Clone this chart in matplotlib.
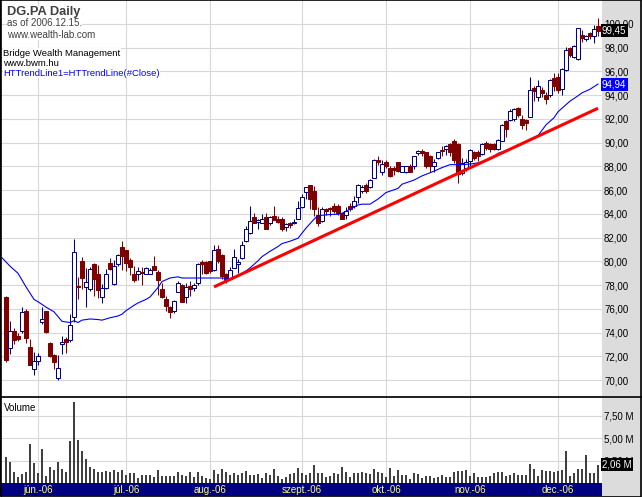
import numpy as np
import matplotlib
matplotlib.use("Agg")
import matplotlib.pyplot as plt
from matplotlib.patches import Rectangle
from matplotlib.lines import Line2D
from matplotlib.ticker import FuncFormatter

# === Data (DG.PA daily, 2006-05-22 .. 2006-12-15) ===
opens = [77.0, 72.7, 74.1, 73.7, 74.1, 75.8, 72.75, 70.95, 71.6, 74.9,
         75.8, 73.1, 72.1, 70.15, 73.0, 73.5, 73.35, 75.35, 77.95, 80.0,
         77.85, 77.65, 79.8, 78.9, 77.0, 77.75, 79.85, 78.1, 79.8, 81.25,
         80.95, 80.1, 78.95, 78.9, 79.1, 78.95, 78.95, 79.65, 79.1, 77.65,
         76.85, 76.15, 75.8, 77.45, 78.05, 77.0, 77.9, 77.75, 78.15, 79.95,
         79.95, 80.0, 79.25, 81.05, 80.5, 78.95, 78.55, 79.45, 79.75, 80.3,
         81.7, 82.35, 83.75, 83.3, 83.25, 83.75, 83.2, 83.85, 83.6, 83.6,
         82.9, 83.2, 83.25, 83.6, 84.6, 85.85, 86.4, 85.95, 83.9, 83.4,
         84.4, 84.5, 84.7, 84.7, 84.05, 83.9, 84.7, 84.7, 85.4, 85.95,
         86.4, 86.3, 87.05, 88.5, 87.55, 88.4, 87.9, 87.9, 88.35, 87.55,
         87.5, 88.05, 88.0, 89.15, 89.3, 89.2, 88.9, 88.0, 88.7, 89.4,
         89.5, 89.9, 90.1, 89.9, 87.45, 87.9, 88.45, 89.2, 89.2, 89.05,
         89.95, 89.85, 89.85, 89.45, 90.15, 91.85, 91.95, 92.0, 92.9, 92.0,
         91.9, 92.2, 94.6, 93.85, 94.4, 94.05, 94.05, 95.45, 95.55, 94.5,
         96.1, 97.95, 97.2, 97.05, 99.05, 98.7, 99.2, 99.0, 99.8]
highs = [77.1, 74.95, 74.35, 74.0, 76.15, 76.0, 73.5, 72.35, 72.3, 76.15,
         75.8, 73.25, 72.2, 72.1, 73.7, 73.6, 75.6, 81.85, 78.7, 80.35,
         79.45, 79.55, 79.9, 79.7, 78.1, 79.4, 80.25, 80.1, 80.65, 81.7,
         80.95, 80.25, 79.65, 79.55, 79.55, 79.55, 79.45, 80.45, 79.3, 78.2,
         77.1, 76.2, 76.75, 78.35, 78.1, 78.2, 78.35, 78.2, 79.9, 80.1,
         80.0, 80.0, 81.4, 81.4, 80.6, 79.0, 79.55, 81.05, 80.2, 81.75,
         82.95, 84.65, 84.05, 83.55, 84.0, 84.05, 83.8, 84.7, 83.8, 83.7,
         83.25, 83.3, 83.55, 85.05, 85.7, 86.3, 86.4, 86.35, 84.55, 84.6,
         84.5, 84.6, 84.95, 84.8, 84.1, 84.6, 84.95, 85.5, 86.5, 86.4,
         86.6, 86.95, 88.6, 88.9, 88.5, 88.5, 88.0, 88.0, 88.4, 88.05,
         88.05, 88.2, 88.9, 89.4, 89.5, 89.2, 89.0, 88.6, 89.25, 89.75,
         89.8, 90.0, 90.3, 90.0, 88.7, 88.6, 89.45, 89.3, 89.35, 89.95,
         90.1, 90.0, 89.95, 90.3, 91.6, 91.9, 92.85, 92.9, 93.0, 92.35,
         92.0, 95.55, 94.8, 95.25, 94.7, 94.3, 95.35, 95.9, 95.9, 96.3,
         98.1, 98.1, 98.2, 99.7, 99.5, 99.1, 99.35, 99.9, 100.5]
lows = [71.5, 72.2, 73.0, 73.3, 74.0, 73.15, 71.25, 70.45, 71.3, 74.75,
        73.95, 71.95, 70.9, 70.0, 72.2, 72.3, 73.25, 74.9, 76.85, 77.7,
        76.15, 77.5, 77.1, 76.9, 76.5, 77.7, 79.25, 78.05, 79.65, 79.25,
        79.15, 78.85, 78.3, 78.4, 78.05, 78.9, 78.9, 79.25, 77.2, 76.9,
        75.8, 75.25, 75.65, 77.4, 76.55, 76.5, 77.05, 77.5, 78.05, 78.95,
        78.9, 79.0, 79.15, 79.9, 78.5, 78.2, 78.5, 79.45, 79.05, 80.2,
        81.6, 82.3, 83.2, 82.75, 83.2, 82.7, 83.1, 83.45, 83.25, 82.55,
        82.6, 82.85, 83.15, 83.55, 84.5, 85.25, 84.4, 83.85, 82.95, 83.3,
        83.9, 83.85, 84.1, 83.9, 83.55, 83.55, 84.25, 84.5, 84.95, 85.8,
        85.8, 86.2, 87.0, 88.1, 87.3, 87.9, 87.15, 87.3, 87.5, 87.5,
        87.45, 87.5, 87.75, 89.0, 88.9, 87.85, 87.5, 87.5, 88.6, 88.9,
        89.0, 88.9, 88.3, 86.6, 87.3, 87.6, 88.0, 88.55, 88.45, 88.95,
        89.4, 89.25, 89.35, 89.4, 90.1, 90.5, 91.85, 91.8, 92.2, 91.15,
        91.05, 92.15, 93.5, 93.5, 93.85, 93.3, 93.85, 94.35, 94.2, 94.0,
        96.0, 97.25, 97.1, 97.0, 98.5, 98.55, 98.7, 98.4, 98.95]
closes = [71.7, 74.1, 73.35, 73.5, 75.75, 73.55, 71.3, 71.65, 72.05, 75.15,
          74.05, 72.0, 71.5, 71.05, 73.25, 73.2, 74.6, 80.75, 77.85, 78.6,
          78.25, 79.4, 78.55, 77.55, 77.8, 78.95, 79.4, 79.65, 80.55, 80.45,
          79.9, 79.55, 78.4, 79.15, 79.05, 79.45, 79.3, 79.3, 78.4, 77.0,
          76.2, 75.7, 76.65, 78.15, 76.6, 77.85, 77.65, 78.0, 79.8, 79.75,
          79.0, 79.15, 81.0, 80.0, 78.75, 78.4, 79.3, 80.4, 79.95, 81.35,
          82.75, 83.4, 83.25, 83.45, 83.6, 82.75, 83.7, 83.45, 83.3, 82.75,
          83.15, 83.1, 83.3, 84.5, 85.45, 86.25, 85.25, 84.4, 83.2, 84.4,
          84.25, 84.4, 84.25, 84.05, 83.6, 84.25, 84.4, 85.1, 86.4, 86.25,
          85.95, 86.85, 88.5, 88.35, 88.2, 88.05, 87.2, 87.7, 87.65, 88.0,
          88.0, 87.55, 88.9, 89.3, 89.15, 88.0, 88.05, 88.4, 89.2, 89.3,
          89.75, 89.2, 88.5, 87.4, 88.25, 88.4, 89.35, 88.7, 88.85, 89.85,
          89.55, 89.45, 89.45, 90.2, 91.5, 91.15, 92.7, 92.8, 92.35, 91.5,
          91.7, 94.4, 94.35, 94.8, 94.2, 93.7, 95.3, 94.8, 94.45, 96.2,
          97.8, 97.4, 98.15, 99.65, 98.8, 99.0, 98.95, 99.55, 99.45]
volumes = [2.93, 2.37, 1.26, 0.63, 1.0, 1.26, 4.33, 2.26, 1.15, 3.78,
           0.81, 1.78, 1.48, 2.37, 1.56, 1.22, 4.7, 9.1, 4.78, 3.56,
           2.67, 1.81, 1.52, 1.26, 1.26, 1.37, 1.26, 1.48, 1.19, 1.44,
           0.89, 1.15, 1.15, 0.59, 0.89, 0.85, 0.89, 0.63, 1.44, 0.78,
           0.78, 0.78, 0.78, 1.26, 0.89, 0.78, 1.26, 0.63, 1.26, 0.78,
           0.52, 0.44, 1.44, 1.0, 1.52, 1.22, 0.89, 1.15, 0.89, 1.15,
           1.33, 0.89, 0.89, 1.0, 0.56, 1.07, 0.89, 1.56, 0.78, 0.44,
           0.63, 0.96, 1.15, 1.63, 1.15, 0.89, 1.15, 2.0, 1.15, 1.15,
           0.63, 0.78, 1.07, 1.0, 1.78, 1.19, 0.63, 1.07, 1.15, 1.26,
           1.07, 1.0, 1.59, 1.26, 1.07, 0.63, 1.67, 0.78, 1.44, 0.89,
           0.89, 0.41, 1.11, 0.96, 0.52, 0.78, 0.78, 0.52, 0.7, 0.89,
           0.7, 0.7, 1.26, 1.37, 1.37, 1.44, 0.78, 1.07, 0.7, 0.7,
           0.7, 0.78, 1.15, 1.26, 1.26, 0.78, 0.89, 1.15, 0.89, 0.89,
           0.89, 2.11, 1.56, 0.78, 1.44, 1.37, 1.37, 1.26, 1.33, 1.44,
           3.56, 0.78, 1.15, 1.56, 1.56, 3.11, 1.07, 1.15, 2.06]

# HTTrendLine(#Close), vertices
ht_idx = [-1, 1, 3, 5, 7, 8, 10, 12, 13, 14, 16, 17, 18, 19, 21, 23, 24, 26, 28, 29,
          30, 32, 33, 35, 36, 38, 39, 41, 43, 44, 47, 49, 52, 54, 56, 58, 60, 61, 63, 64,
          66, 68, 69, 71, 73, 75, 77, 78, 81, 83, 84, 86, 88, 89, 91, 93, 95, 98, 99, 102,
          104, 107, 109, 111, 114, 116, 118, 121, 123, 128, 130, 133, 135, 137, 138, 141,
          143, 144, 146, 148]
ht_val = [80.3, 79.6, 79.0, 77.85, 76.8, 76.6, 76.15, 75.75, 75.35, 74.95, 74.85, 75.0,
          74.85, 75.05, 75.15, 75.1, 75.05, 75.25, 75.4, 75.55, 75.85, 76.3, 76.5, 76.8,
          77.0, 77.8, 78.3, 78.6, 78.7, 78.6, 78.6, 78.6, 78.6, 78.6, 78.55, 78.75, 79.2,
          79.45, 80.05, 80.4, 80.85, 81.25, 81.5, 81.7, 81.95, 82.8, 83.55, 83.85, 83.95,
          83.97, 84.05, 84.4, 84.75, 84.82, 84.82, 85.25, 85.8, 86.15, 86.5, 86.85, 87.2,
          87.6, 87.9, 88.15, 88.15, 88.2, 88.3, 88.6, 89.1, 89.7, 90.1, 90.6, 91.5, 92.1,
          92.6, 93.5, 93.95, 94.2, 94.5, 94.94]

# Hand-drawn red trend line (start / end bar and price)
trend_idx = [52, 148]
trend_val = [77.85, 92.9]

month_pos = [8, 30, 51, 74, 95, 116, 138]
month_labels = ["jún.-06", "júl.-06", "aug.-06", "szept.-06", "okt.-06", "nov.-06", "dec.-06"]
price_ticks = [70, 72, 74, 76, 78, 80, 82, 84, 86, 88, 90, 92, 94, 96, 98, 100]
vol_ticks = [2.5, 5.0, 7.5]

# === Figure layout in pixels ===
W, H = 642, 497
plt.rcParams['font.family'] = ['Liberation Sans', 'DejaVu Sans']


def px_box(x0, y0, x1, y1):
    return [x0 / W, 1 - y1 / H, (x1 - x0) / W, (y1 - y0) / H]


fig = plt.figure(figsize=(W / 100, H / 100), dpi=100)
fig.patch.set_facecolor('#dcdcdc')

grid_c = '#d8d8d8'
up_c = '#000080'
dn_c = '#800000'
n = len(closes)
idx = np.arange(n)
xlim = (-1.5, 149)

# --- price pane ---
ax = fig.add_axes(px_box(0, 0, 602, 396))
ax.set_facecolor('white')
ax.set_xlim(*xlim)
ax.set_ylim(68.66, 102.02)
ax.set_yticks(price_ticks)
ax.yaxis.set_major_formatter(FuncFormatter(lambda v, p: f"{v:.2f}".replace('.', ',')))
ax.yaxis.tick_right()
ax.tick_params(axis='y', length=0, pad=1.5, labelsize=7)
ax.set_xticks(month_pos)
ax.tick_params(axis='x', length=0, labelbottom=False)
ax.grid(True, color=grid_c, lw=0.8)
ax.set_axisbelow(True)
for s in ['right', 'bottom', 'top']:
    ax.spines[s].set_visible(False)
ax.spines['left'].set_color('black')

colors = [up_c if c >= o else dn_c for o, c in zip(opens, closes)]
ax.vlines(idx, lows, highs, colors=colors, lw=0.75, zorder=2)
body_w = 0.8
for i in range(n):
    o, c = opens[i], closes[i]
    lo, hi = min(o, c), max(o, c)
    h = max(hi - lo, 0.06)
    if c >= o:
        ax.add_patch(Rectangle((i - body_w / 2, lo), body_w, h, facecolor='white',
                               edgecolor=up_c, lw=0.75, zorder=3))
    else:
        ax.add_patch(Rectangle((i - body_w / 2, lo), body_w, h, facecolor=dn_c,
                               edgecolor=dn_c, lw=0.75, zorder=3))

ax.plot(ht_idx, ht_val, color='#0000ff', lw=0.8, zorder=4)
ax.plot(trend_idx, trend_val, color='#ff0000', lw=2.2, solid_capstyle='butt', zorder=5)

ax.text(1.0, closes[-1], f"{closes[-1]:.2f}".replace('.', ','), transform=ax.get_yaxis_transform(),
        ha='left', va='center', fontsize=7, color='white', clip_on=False, zorder=10,
        bbox=dict(boxstyle='square,pad=0.15', facecolor='black', edgecolor='none'))
ax.text(1.0, ht_val[-1], f"{ht_val[-1]:.2f}".replace('.', ','), transform=ax.get_yaxis_transform(),
        ha='left', va='center', fontsize=7, color='white', clip_on=False, zorder=10,
        bbox=dict(boxstyle='square,pad=0.15', facecolor='#0000ff', edgecolor='none'))

# --- volume pane ---
axv = fig.add_axes(px_box(0, 398, 602, 483))
axv.set_facecolor('white')
axv.set_xlim(*xlim)
axv.set_ylim(0, 9.5)
axv.bar(idx, volumes, width=0.55, color='#404040', zorder=3)
axv.set_yticks(vol_ticks)
axv.yaxis.set_major_formatter(FuncFormatter(lambda v, p: f"{v:.2f} M".replace('.', ',')))
axv.yaxis.tick_right()
axv.tick_params(axis='y', length=0, pad=1.5, labelsize=7)
axv.set_xticks(month_pos)
axv.tick_params(axis='x', length=0, labelbottom=False)
axv.grid(True, color=grid_c, lw=0.8)
axv.set_axisbelow(True)
for s in ['right', 'bottom', 'top']:
    axv.spines[s].set_visible(False)
axv.text(0.006, 0.88, "Volume", transform=axv.transAxes, fontsize=7, va='center')
axv.text(1.0, volumes[-1], f"{volumes[-1]:.2f} M".replace('.', ','), transform=axv.get_yaxis_transform(),
         ha='left', va='center', fontsize=7, color='white', clip_on=False, zorder=10,
         bbox=dict(boxstyle='square,pad=0.15', facecolor='black', edgecolor='none'))

# --- date bar ---
axd = fig.add_axes(px_box(0, 483, 602, 496))
axd.set_facecolor('#000080')
axd.set_xlim(*xlim)
axd.set_ylim(0, 1)
axd.set_xticks([])
axd.set_yticks([])
for s in axd.spines.values():
    s.set_visible(False)
for p, lab in zip(month_pos, month_labels):
    axd.text(p, 0.45, lab, ha='center', va='center', fontsize=7, color='#ffff70')

# --- header texts ---
def ftext(x, y, s, **kw):
    fig.text(x / W, 1 - y / H, s, va='center', ha='left',
             bbox=dict(facecolor='white', edgecolor='none', pad=0.3), **kw)


ftext(7, 12, "DG.PA Daily", fontsize=9.3, fontweight='bold', color='#404040')
ftext(7, 23, "as of 2006.12.15.", fontsize=7, color='#404040')
ftext(7, 34.5, "www.wealth-lab.com", fontsize=7, color='#404040')
ftext(3, 53, "Bridge Wealth Management", fontsize=6.8, color='black')
ftext(3, 63.5, "www.bwm.hu", fontsize=6.8, color='black')
ftext(3, 73.5, "HTTrendLine1=HTTrendLine(#Close)", fontsize=6.8, color='#0000ff')

# --- frame lines ---
fig.add_artist(Line2D([0, 1], [1 - 397 / H, 1 - 397 / H], color='black', lw=1.2, transform=fig.transFigure))
fig.add_artist(Rectangle((0.0008, 0.001), 0.998, 0.998, fill=False, edgecolor='black', lw=1.2,
                         transform=fig.transFigure))

fig.savefig("out.png", dpi=100)
